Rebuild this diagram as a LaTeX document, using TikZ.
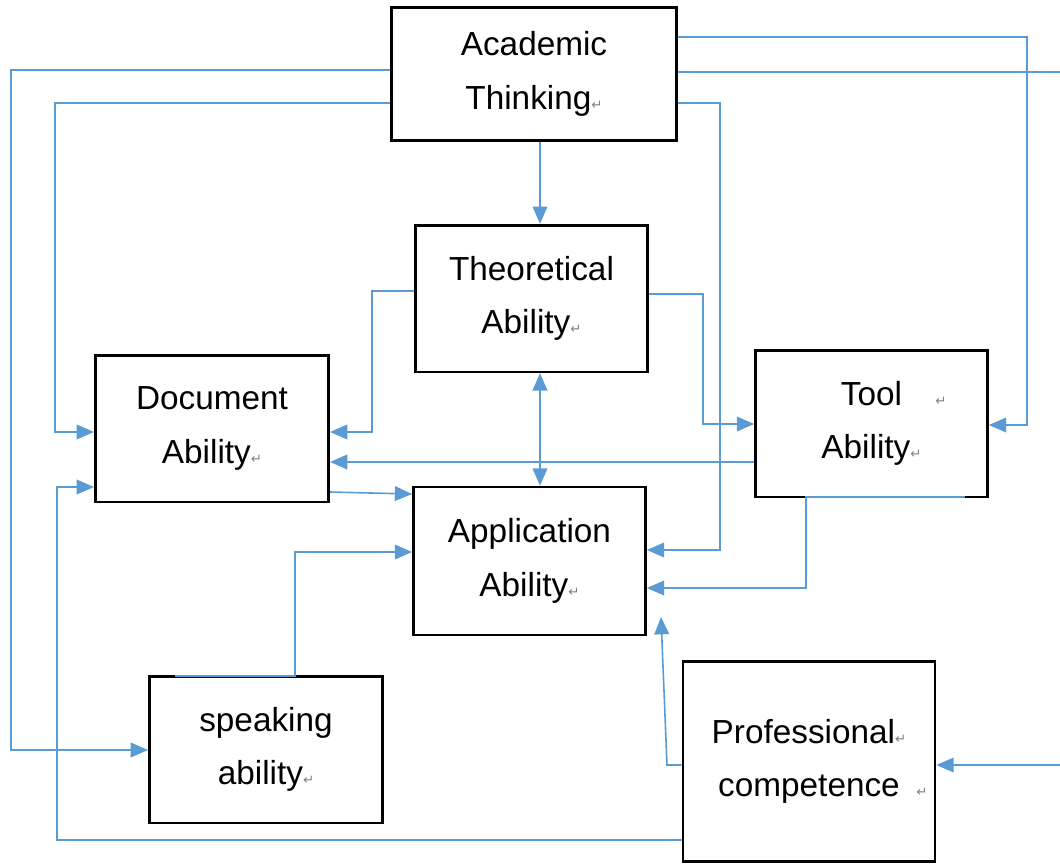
\documentclass[tikz,border=0pt]{standalone}
\usepackage{fontspec}
\setmainfont{Liberation Sans}
\newfontfamily\symfont{DejaVu Sans}
\usetikzlibrary{arrows.meta}
\definecolor{linkblue}{HTML}{5B9BD5}
\newcommand{\retmark}{{\symfont\color{gray}\fontsize{10}{10}\selectfont ↵}}
\begin{document}
\begin{tikzpicture}[x=0.75pt,y=-0.75pt,
  box/.style={draw, line width=2pt, align=center, inner sep=0pt,
    font=\fontsize{25}{40}\selectfont},
  link/.style={draw=linkblue, line width=1.2pt,
    -{Triangle[length=13pt,width=11pt]}}]

\useasboundingbox (0,0) rectangle (1060,867);

% the boxes
\node[box, minimum width=214pt, minimum height=100pt] (acad) at (534,74) {Academic\\Thinking\retmark};
\node[box, minimum width=174pt, minimum height=110pt] (theo) at (531.5,298.5) {Theoretical\\Ability\retmark};
\node[box, minimum width=175pt, minimum height=110pt] (doc) at (212,428.5) {Document\\Ability\retmark};
\node[box, minimum width=174pt, minimum height=110pt] (tool) at (871.5,423.5) {\hphantom{\quad\retmark}Tool\quad\retmark\\Ability\retmark};
\node[box, minimum width=174pt, minimum height=111pt] (app) at (529.5,561) {Application\\Ability\retmark};
\node[box, minimum width=175pt, minimum height=110pt] (speak) at (266,749.5) {speaking\\ability\retmark};
\node[box, minimum width=189pt, minimum height=150pt] (prof) at (809,761.5) {Professional\retmark\\\hphantom{\enspace\retmark}competence\enspace\retmark};

\coordinate (offr) at (1075,0);
\coordinate (profend) at (661,617);

% from Academic Thinking
\draw[link] (acad.west |- 0,70) -- (11,70) -- (11,750) -- (speak.west |- 0,750);
\draw[link] (acad.west |- 0,103) -- (55,103) -- (55,432) -- (doc.west |- 0,432);
\draw[link] (acad.east |- 0,37) -- (1027,37) -- (1027,425) -- (tool.east |- 0,425);
\draw[link] (acad.east |- 0,72) -- (offr |- 0,72) -- (offr |- 0,765) -- (prof.east |- 0,765);
\draw[link] (acad.east |- 0,103) -- (720,103) -- (720,550) -- (app.east |- 0,550);
\draw[link] (acad.south -| 540,0) -- (theo.north -| 540,0);

% from Theoretical Ability
\draw[link] (theo.west |- 0,291) -- (372,291) -- (372,432) -- (doc.east |- 0,432);
\draw[link] (theo.east |- 0,294) -- (703,294) -- (703,424) -- (tool.west |- 0,424);
\draw[link, {Triangle[length=13pt,width=11pt]}-{Triangle[length=13pt,width=11pt]}] (theo.south -| 540,0) -- (app.north -| 540,0);

% the others
\draw[link] (tool.west |- 0,462) -- (doc.east |- 0,462);
\draw[link] (doc.east |- 0,492) -- (app.west |- 0,494);
\draw[link] (175,676) -- (295,676) -- (295,552) -- (app.west |- 0,552);
\draw[link] (965,497) -- (806,497) -- (806,588) -- (app.east |- 0,588);
\draw[link] (prof.west |- 0,765) -- (667,765) -- (profend);
\draw[link] (prof.west |- 0,840) -- (57,840) -- (57,487) -- (doc.west |- 0,487);

\end{tikzpicture}
\end{document}
